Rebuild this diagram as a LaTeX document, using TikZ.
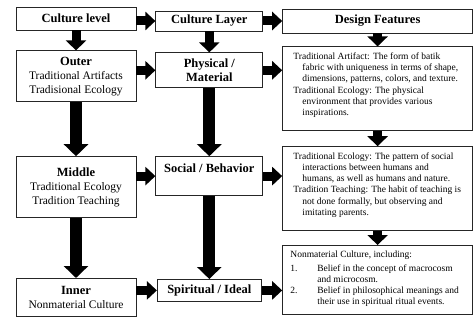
\documentclass[tikz,border=0pt]{standalone}
\usepackage{fontspec}
\setmainfont{Liberation Serif}
\usepackage{tikz}
\usetikzlibrary{arrows.meta,positioning}
\newcommand{\ttlfont}{\fontsize{12.5}{14}\selectfont\bfseries}
\newcommand{\subfont}{\fontsize{11.5}{14}\selectfont}
\newcommand{\descfont}{\fontsize{9.5}{11.3}\selectfont}
\tikzset{
  basebox/.style={rectangle,draw=black!85,line width=0.8pt,fill=white,
                  align=center,inner sep=2pt},
  lvlbox/.style={basebox,minimum width=120pt,font=\subfont},
  laybox/.style={basebox,minimum width=107pt,font=\ttlfont},
  desbox/.style={basebox,minimum width=190pt},
  desctext/.style={anchor=north west,align=left,inner sep=0pt,font=\descfont},
  harr/.style={-{Triangle[width=18pt,length=10pt]},line width=9pt,color=black},
  varr/.style={-{Triangle[width=20pt,length=10pt]},line width=9pt,color=black},
  bigarr/.style={-{Triangle[width=24pt,length=12pt]},line width=12pt,color=black}
}
\begin{document}
\begin{tikzpicture}[x=1pt,y=-1pt]
  \useasboundingbox (0,0) rectangle (473,320);
  % culture level column
  \node[lvlbox,minimum height=23pt] (lvl) at (76,18.5) {\ttlfont Culture level};
  \node[lvlbox,minimum height=51pt,below=20pt of lvl] (outer)
      {{\ttlfont Outer}\\ Traditional Artifacts\\ Tradisional Ecology};
  \node[lvlbox,minimum height=61pt,below=54pt of outer] (middle)
      {{\ttlfont Middle}\\ Traditional Ecology\\ Tradition Teaching};
  \node[lvlbox,minimum height=38pt,below=60pt of middle] (inner)
      {{\ttlfont Inner}\\ Nonmaterial Culture};

  % culture layer column
  \node[laybox,minimum height=20pt,right=19pt of lvl,yshift=-2.5pt] (lay) {Culture Layer};
  \node[laybox,minimum height=35pt,below=21pt of lay] (phys) {Physical /\\ Material};
  \node[laybox,minimum height=39pt,text height=9pt,text depth=16pt,
        below=68pt of phys] (social) {Social / Behavior};
  \node[laybox,minimum width=104pt,minimum height=22pt,below=83pt of social] (spirit)
      {Spiritual / Ideal};

  % design features column
  \node[desbox,minimum height=24pt,font=\ttlfont,right=19pt of lay] (des) {Design Features};
  \node[desbox,minimum height=84pt,below=13pt of des] (dA) {};
  \node[desbox,minimum height=84pt,below=15pt of dA] (dB) {};
  \node[desbox,minimum height=69pt,below=14pt of dB] (dC) {};

  \node[desctext] (dAtxt) at ([xshift=11pt,yshift=-6pt]dA.north west)
      {Traditional Artifact: The form of batik\\
       \hspace*{9pt}fabric with uniqueness in terms of shape,\\
       \hspace*{9pt}dimensions, patterns, colors, and texture.\\
       Traditional Ecology: The physical\\
       \hspace*{9pt}environment that provides various\\
       \hspace*{9pt}inspirations.};
  \node[desctext] (dBtxt) at ([xshift=11pt,yshift=-6pt]dB.north west)
      {Traditional Ecology: The pattern of social\\
       \hspace*{9pt}interactions between humans and\\
       \hspace*{9pt}humans, as well as humans and nature.\\
       Tradition Teaching: The habit of teaching is\\
       \hspace*{9pt}not done formally, but observing and\\
       \hspace*{9pt}imitating parents.};
  \node[desctext] (dCtxt) at ([xshift=8pt,yshift=-6pt]dC.north west)
      {Nonmaterial Culture, including:\\[2pt]
       \makebox[27pt][l]{1.}Belief in the concept of macrocosm\\
       \hspace*{27pt}and microcosm.\\
       \makebox[27pt][l]{2.}Belief in philosophical meanings and\\
       \hspace*{27pt}their use in spiritual ritual events.};

  % arrows across
  \draw[harr] (lay.west -| lvl.east) -- (lay.west);
  \draw[harr] (lay.east) -- (lay.east -| des.west);
  \draw[harr] (phys.west -| outer.east) -- (phys.west);
  \draw[harr] (phys.east) -- (phys.east -| dA.west);
  \draw[harr] (social.west -| middle.east) -- (social.west);
  \draw[harr] (social.east) -- (social.east -| dB.west);
  \draw[harr] (spirit.west -| inner.east) -- (spirit.west);
  \draw[harr] (spirit.east) -- (spirit.east -| dC.west);

  % arrows down
  \draw[varr] (lvl.south) -- (outer.north);
  \draw[varr] (lay.south) -- (phys.north);
  \draw[varr] (des.south) -- (dA.north);
  \draw[varr] (dA.south) -- (dB.north);
  \draw[varr] (dB.south) -- (dC.north);
  \draw[bigarr] (outer.south) -- (middle.north);
  \draw[bigarr] (middle.south) -- (inner.north);
  \draw[bigarr] (phys.south) -- (social.north);
  \draw[bigarr] (social.south) -- (spirit.north);
\end{tikzpicture}
\end{document}
